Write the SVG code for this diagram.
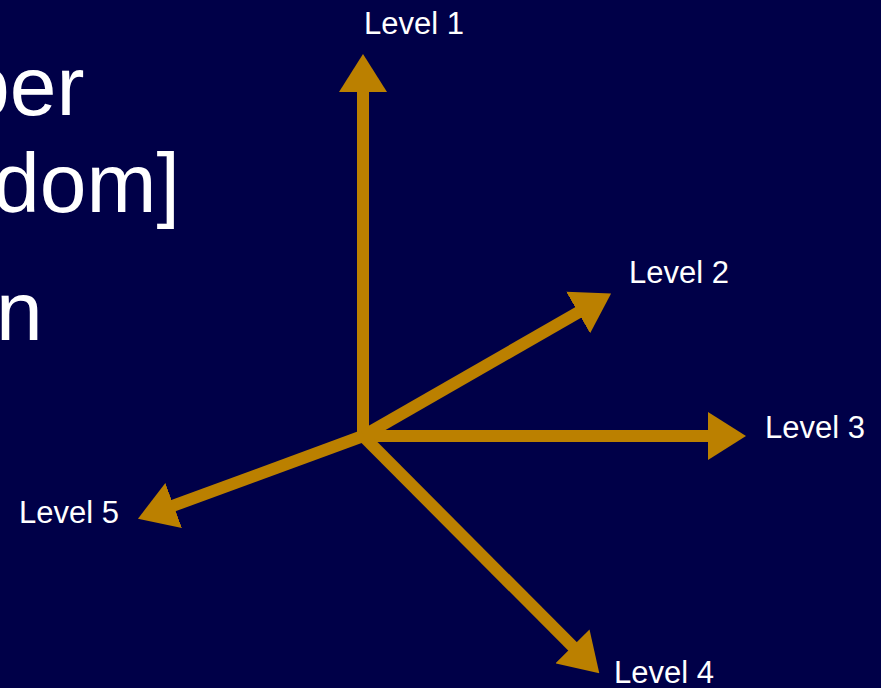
<svg xmlns="http://www.w3.org/2000/svg" width="881" height="688" viewBox="0 0 881 688">
  <style>
    .bg { fill: #000048; }
    .big { font-family: "Liberation Sans", Arial, sans-serif; font-size: 84px; fill: #ffffff; }
    .lbl { font-family: "Liberation Sans", Arial, sans-serif; font-size: 31px; fill: #ffffff; }
    .axis { stroke: #BB8000; stroke-width: 12; fill: none; stroke-linecap: butt; marker-end: url(#head); }
  </style>
  <defs>
    <marker id="head" markerUnits="userSpaceOnUse" viewBox="0 0 38 48" markerWidth="38" markerHeight="48" refX="1" refY="24" orient="auto">
      <path d="M0,0 L38,24 L0,48 Z" fill="#BB8000"/>
    </marker>
  </defs>
  <rect class="bg" x="0" y="0" width="881" height="688"/>

  <g id="bullet-text">
    <text class="big" x="-37" y="115">ber</text>
    <text class="big" x="-7" y="212">dom]</text>
    <text class="big" x="-4" y="340">n</text>
  </g>

  <g id="connectors">
    <line class="axis" x1="363" y1="436" x2="363" y2="91"/>
    <line class="axis" x1="363" y1="436" x2="579" y2="312"/>
    <line class="axis" x1="363" y1="436" x2="709" y2="436"/>
    <line class="axis" x1="363" y1="436" x2="573.2" y2="647.1"/>
    <line class="axis" x1="363" y1="436" x2="172.7" y2="505.9"/>
  </g>

  <g id="level1"><text class="lbl" x="364" y="34">Level 1</text></g>
  <g id="level2"><text class="lbl" x="629" y="283">Level 2</text></g>
  <g id="level3"><text class="lbl" x="765" y="438">Level 3</text></g>
  <g id="level4"><text class="lbl" x="614" y="683">Level 4</text></g>
  <g id="level5"><text class="lbl" x="19" y="523">Level 5</text></g>
</svg>
